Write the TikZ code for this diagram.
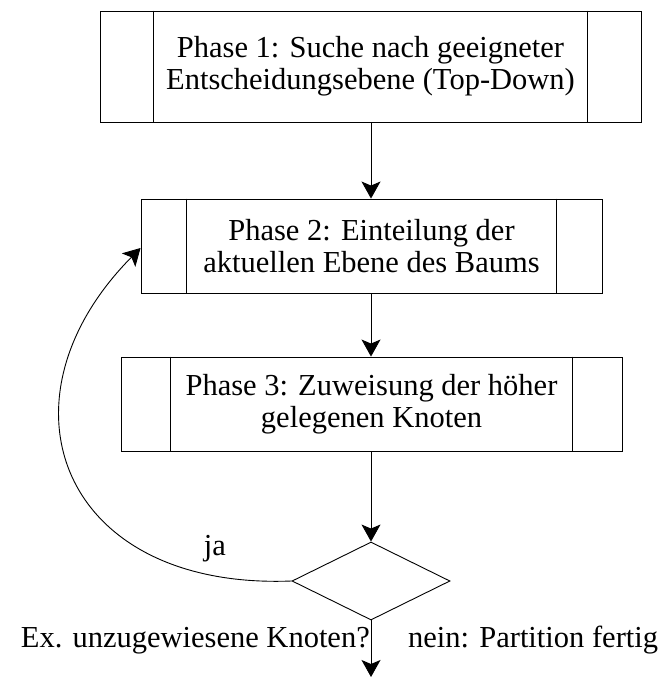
\documentclass[tikz,border=0pt]{standalone}
\usepackage{fontspec}
\setmainfont{Liberation Serif}
\usetikzlibrary{arrows.meta,shapes.geometric,calc}

\tikzset{
  flowline/.style={line width=0.9pt, draw=black},
  arrowline/.style={flowline, -{Stealth[length=17pt, width=19pt, inset=4pt]}},
  labelfont/.style={font=\fontsize{30.5}{32}\selectfont},
  procbox/.style={draw=black, line width=0.9pt, rectangle, align=center, inner sep=0pt, labelfont},
  decision/.style={draw=black, line width=0.9pt, diamond, inner sep=0pt},
  txt/.style={labelfont, inner sep=0pt, anchor=base}
}

\newcommand{\sidebars}[1]{%
  \draw[flowline] ($(#1.north west)!0.1!(#1.north east)$) -- ($(#1.south west)!0.1!(#1.south east)$);
  \draw[flowline] ($(#1.north east)!0.1!(#1.north west)$) -- ($(#1.south east)!0.1!(#1.south west)$);
}

\begin{document}
\begin{tikzpicture}[x=1pt, y=-1pt]
  \useasboundingbox (0,0) rectangle (665,677);

  % process steps
  \node[procbox, minimum width=541pt, minimum height=111pt] (b1) at (370.5,66.5)
    {Phase 1: Suche nach geeigneter\\Entscheidungsebene (Top-Down)};
  \node[procbox, minimum width=461pt, minimum height=94pt] (b2) at (371.5,246)
    {Phase 2: Einteilung der\\aktuellen Ebene des Baums};
  \node[procbox, minimum width=501pt, minimum height=94pt] (b3) at (371.5,404)
    {Phase 3: Zuweisung der höher\\gelegenen Knoten};
  \sidebars{b1}
  \sidebars{b2}
  \sidebars{b3}

  % decision
  \node[decision, minimum width=158pt, minimum height=78pt] (d) at (371,581) {};
  \coordinate (out) at (371,677);

  % connectors
  \draw[arrowline] (b1.south -| d.north) -- (b2.north -| d.north);
  \draw[arrowline] (b2.south -| d.north) -- (b3.north -| d.north);
  \draw[arrowline] (b3.south -| d.north) -- (d.north);
  \draw[arrowline] (d.south) -- (out);
  \draw[arrowline] (d.west) .. controls (60,590) and (-10,400) .. (b2.west |- 0,248);

  % labels
  \node[txt] (ja) at (215,555) {ja};
  \node[txt, anchor=base east] (q) at (370,647) {Ex. unzugewiesene Knoten?};
  \node[txt, anchor=base west] (nein) at (408,647) {nein: Partition fertig};
\end{tikzpicture}
\end{document}
